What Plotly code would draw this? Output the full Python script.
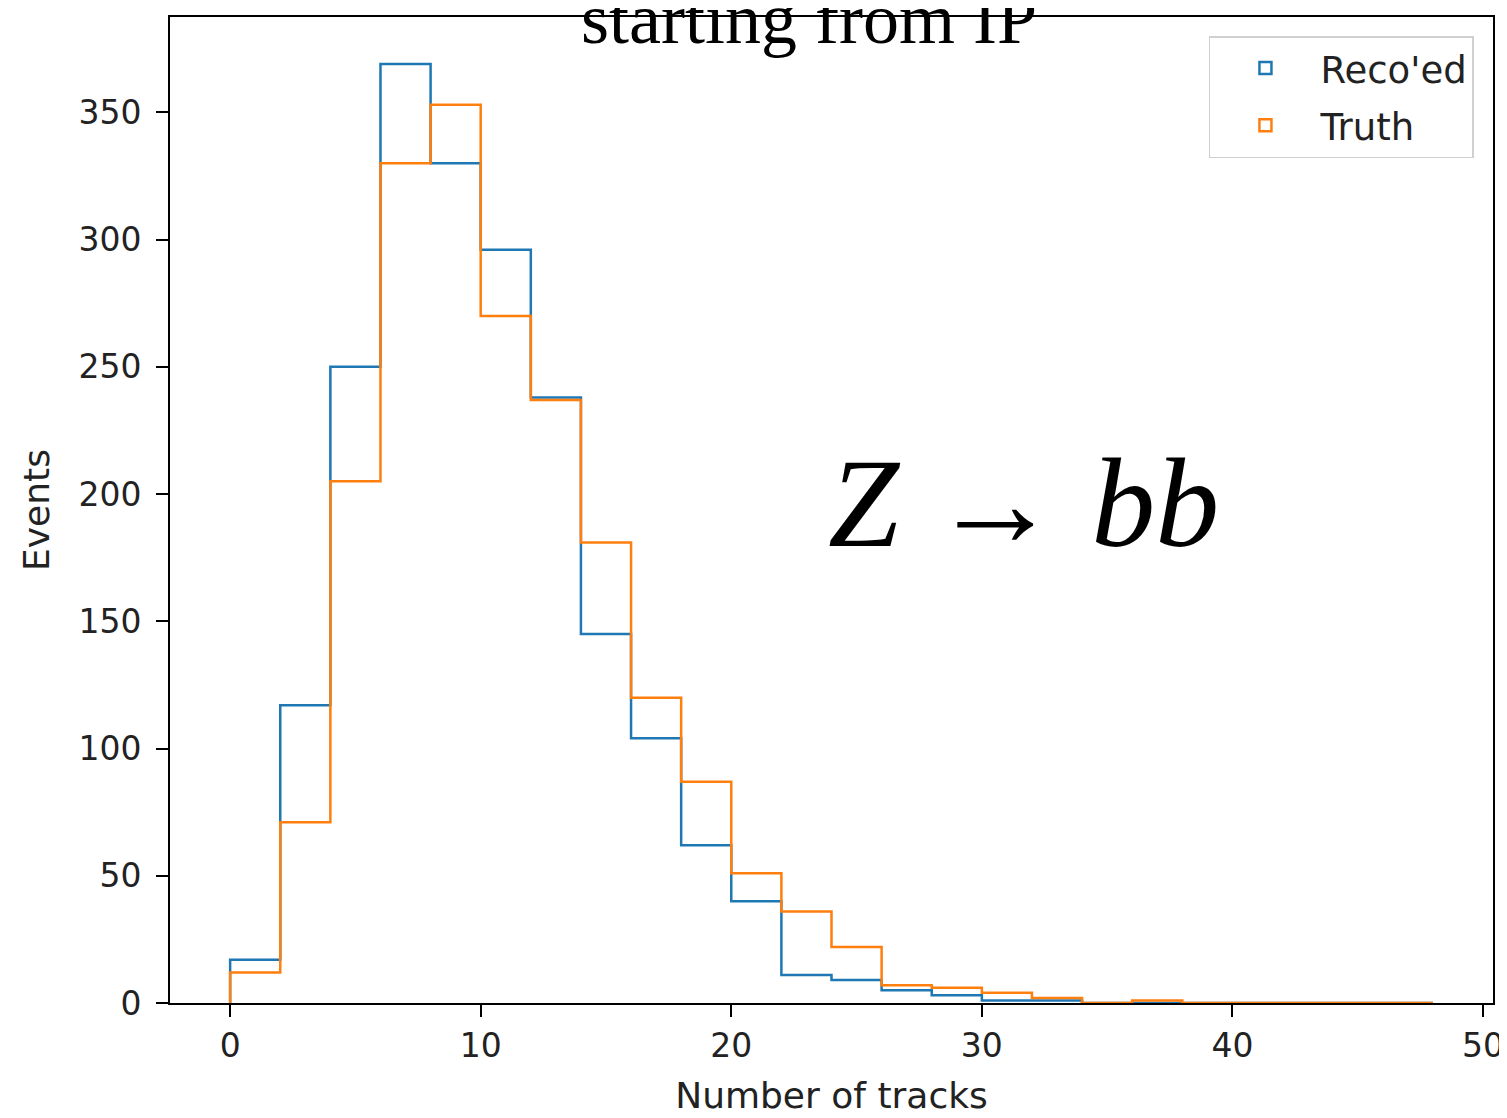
import plotly.graph_objects as go

# Histogram bin edges (width 2, 0..48)
bin_edges = list(range(0, 50, 2))

# Bin contents (24 bins)
reco_counts = [17, 117, 250, 369, 330, 296, 238, 145, 104, 62, 40, 11,
               9, 5, 3, 1, 1, 0, 0, 0, 0, 0, 0, 0]
truth_counts = [12, 71, 205, 330, 353, 270, 237, 181, 120, 87, 51, 36,
                22, 7, 6, 4, 2, 0, 1, 0, 0, 0, 0, 0]

series_names = ["Reco'ed", "Truth"]
series_colors = ["#1f77b4", "#ff7f0e"]

x_ticks = [0, 10, 20, 30, 40, 50]
y_ticks = [0, 50, 100, 150, 200, 250, 300, 350]

title_text = "starting from IP"
process_text = "Z → bb"
x_label = "Number of tracks"
y_label = "Events"


def step_outline(edges, counts):
    xs = [edges[0]] + list(edges)
    ys = [0] + list(counts) + [0]
    return xs, ys


fig = go.Figure()

for name, counts, color in zip(series_names, [reco_counts, truth_counts], series_colors):
    xs, ys = step_outline(bin_edges, counts)
    fig.add_trace(go.Scatter(
        x=xs, y=ys, mode="lines", line=dict(color=color, width=2.5, shape="hv"),
        name=name, showlegend=False, hoverinfo="skip"))

# legend-only entries with rectangular outline handles
for name, color in zip(series_names, series_colors):
    fig.add_trace(go.Bar(
        x=[None], y=[None], name=name, legendgroup=name,
        marker=dict(color="rgba(0,0,0,0)", line=dict(color=color, width=2.5))))

tick_font = dict(family="DejaVu Sans", size=33, color="#222")
label_font = dict(family="DejaVu Sans", size=36, color="#222")

fig.update_layout(
    width=1499, height=1110,
    margin=dict(l=162, r=14, t=9, b=115),
    paper_bgcolor="white", plot_bgcolor="white",
    showlegend=True,
    legend=dict(
        x=0.9856, y=0.9807, xanchor="right", yanchor="top",
        bordercolor="#d0d0d0", borderwidth=1.5, bgcolor="rgba(255,255,255,0.8)",
        font=dict(family="DejaVu Sans", size=37, color="#222"),
        itemwidth=100, tracegroupgap=6,
    ),
    xaxis=dict(
        range=[-2.4, 50.4], tickvals=x_ticks, ticks="outside", ticklen=12,
        tickwidth=2, tickcolor="black", showline=True, linecolor="black",
        linewidth=2, mirror=True, showgrid=False, zeroline=False,
        tickfont=tick_font, automargin=False,
        title=dict(text=x_label, font=label_font, standoff=19),
    ),
    yaxis=dict(
        range=[0, 387.5], tickvals=y_ticks, ticks="outside", ticklen=12,
        tickwidth=2, tickcolor="black", showline=True, linecolor="black",
        linewidth=2, mirror=True, showgrid=False, zeroline=False,
        tickfont=tick_font, ticklabelstandoff=8, automargin=False,
        title=dict(text=y_label, font=label_font, standoff=18),
    ),
    annotations=[
        dict(text=title_text, xref="paper", yref="paper", x=0.483, y=0.998,
             xanchor="center", yanchor="middle", showarrow=False,
             font=dict(family="Liberation Serif", size=72, color="black")),
        dict(text=process_text, xref="paper", yref="paper", x=0.645, y=0.507,
             xanchor="center", yanchor="middle", showarrow=False,
             font=dict(family="Liberation Serif", size=128, color="black",
                       style="italic")),
    ],
)

fig.write_html("out.html")
